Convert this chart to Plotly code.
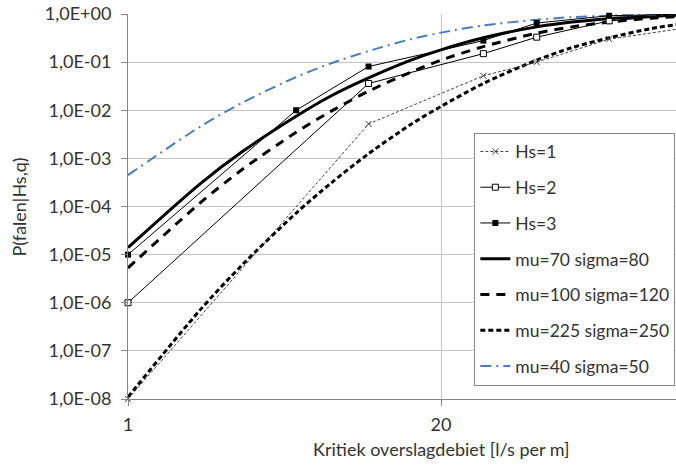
import plotly.graph_objects as go

# kritiek overslagdebiet [l/s per m]
q_curve = [1, 2, 3, 5, 7, 10, 15, 20, 30, 50, 70, 100, 150, 200]
p_mu70 = [1.4e-5, 3.0e-4, 1.4e-3, 7.5e-3, 0.020, 0.047, 0.11, 0.18, 0.32, 0.54, 0.68, 0.80, 0.90, 0.95]
p_mu100 = [5.3e-6, 1.2e-4, 6.0e-4, 3.5e-3, 9.6e-3, 0.025, 0.062, 0.11, 0.21, 0.40, 0.54, 0.68, 0.82, 0.89]
p_mu225 = [1.1e-8, 7.2e-7, 6.3e-6, 7.3e-5, 3.1e-4, 1.25e-3, 5.1e-3, 0.012, 0.036, 0.11, 0.20, 0.32, 0.50, 0.62]
p_mu40 = [4.5e-4, 4.6e-3, 0.0145, 0.049, 0.095, 0.17, 0.30, 0.41, 0.58, 0.76, 0.86, 0.92, 0.97, 0.98]

q_hs1 = [1, 10, 30, 50, 100, 200]
p_hs1 = [1e-8, 5.2e-3, 0.052, 0.10, 0.30, 0.50]
q_hs2 = [1, 10, 30, 50, 100, 200]
p_hs2 = [1e-6, 0.036, 0.15, 0.33, 0.72, 0.95]
q_hs3 = [1, 5, 10, 30, 50, 100, 200]
p_hs3 = [1e-5, 0.010, 0.081, 0.28, 0.65, 0.92, 0.99]

y_ticks = [1e0, 1e-1, 1e-2, 1e-3, 1e-4, 1e-5, 1e-6, 1e-7, 1e-8]
y_labels = ["1,0E+00", "1,0E-01", "1,0E-02", "1,0E-03", "1,0E-04",
            "1,0E-05", "1,0E-06", "1,0E-07", "1,0E-08"]
x_ticks = [1, 20]
x_labels = ["1", "20"]

FONT = "Lato"
FS = 18
TXT = "#333333"

fig = go.Figure()

curves = [
    ("mu=70 sigma=80", p_mu70, dict(color="black", width=3), 4),
    ("mu=100 sigma=120", p_mu100, dict(color="black", width=3, dash="9px,7px"), 5),
    ("mu=225 sigma=250", p_mu225, dict(color="black", width=3, dash="5px,3px"), 6),
    ("mu=40 sigma=50", p_mu40, dict(color="#4a7ebb", width=2, dash="11px,5px,2px,5px"), 7),
]
for name, p, line, rank in curves:
    line["shape"] = "spline"
    line["smoothing"] = 0.8
    fig.add_trace(go.Scatter(x=q_curve, y=p, name=name, mode="lines", line=line,
                             legendrank=rank, legendgroup=name))

fig.add_trace(go.Scatter(x=q_hs1, y=p_hs1, name="Hs=1", mode="lines+markers",
                         line=dict(color="#404040", width=1, dash="3px,2px"),
                         marker=dict(symbol="x-thin", size=6, line=dict(color="#404040", width=1)),
                         legendrank=1, legendgroup="hs1", cliponaxis=False))
fig.add_trace(go.Scatter(x=q_hs2, y=p_hs2, name="Hs=2", mode="lines+markers",
                         line=dict(color="black", width=1),
                         marker=dict(symbol="square", size=6, color="white",
                                     line=dict(color="black", width=1)),
                         legendrank=2, legendgroup="hs2", cliponaxis=False))
fig.add_trace(go.Scatter(x=q_hs3, y=p_hs3, name="Hs=3", mode="lines+markers",
                         line=dict(color="black", width=1),
                         marker=dict(symbol="square", size=6, color="black"),
                         legendrank=3, legendgroup="hs3", cliponaxis=False))

fig.update_layout(
    width=676, height=469,
    margin=dict(l=128, r=0, t=14, b=70),
    plot_bgcolor="white", paper_bgcolor="white",
    font=dict(family=FONT, size=FS, color=TXT),
    legend=dict(x=0.632, y=0.692, xanchor="left", yanchor="top",
                bgcolor="white", bordercolor="#888888", borderwidth=1,
                traceorder="grouped", tracegroupgap=10,
                font=dict(family=FONT, size=17.5, color=TXT)),
    annotations=[
        dict(text="Kritiek overslagdebiet [l/s per m]", xref="paper", yref="paper",
             x=0.5712, y=-0.130, xanchor="center", yanchor="middle", showarrow=False,
             font=dict(family=FONT, size=FS, color=TXT)),
        dict(text="P(falen|Hs,q)", xref="paper", yref="paper", textangle=-90,
             x=-0.1990, y=0.5, xanchor="center", yanchor="middle", showarrow=False,
             font=dict(family=FONT, size=FS, color=TXT)),
    ],
)
fig.update_xaxes(type="log", range=[0, 2.2778], tickvals=x_ticks, ticktext=x_labels,
                 showgrid=True, gridcolor="#c4c4c4", showline=True, linecolor="#868686",
                 ticks="outside", ticklen=6, tickcolor="#868686", ticklabelstandoff=3)
fig.update_yaxes(type="log", range=[-8, 0], tickvals=y_ticks, ticktext=y_labels,
                 showgrid=True, gridcolor="#c4c4c4", showline=True, linecolor="#868686",
                 ticks="outside", ticklen=6, tickcolor="#868686", ticklabelstandoff=6)

fig.write_html("out.html", config={"displayModeBar": False},
               post_script="document.body.style.margin='0';")
